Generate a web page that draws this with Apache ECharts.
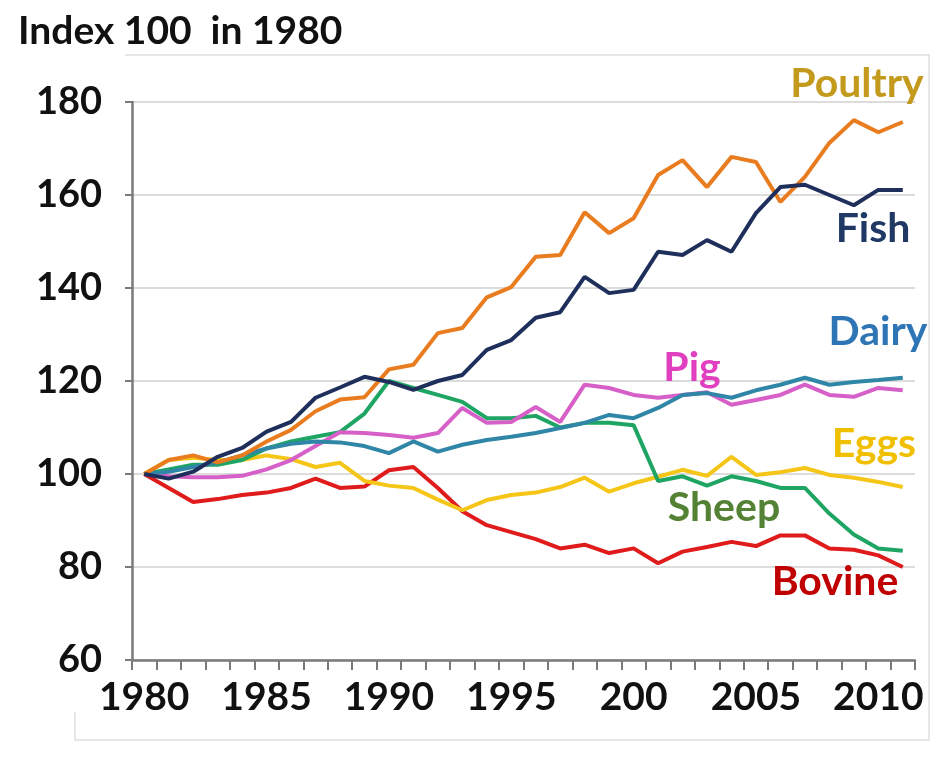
<!DOCTYPE html>
<html>
<head>
<meta charset="utf-8">
<script src="https://cdn.jsdelivr.net/npm/echarts@6/dist/echarts.min.js"></script>
<style>
html,body{margin:0;padding:0;background:#fff;}
#chart{width:935px;height:765px;}
</style>
</head>
<body>
<div id="chart"></div>
<script>
const years = [1980,1981,1982,1983,1984,1985,1986,1987,1988,1989,1990,1991,1992,1993,1994,1995,1996,1997,1998,1999,2000,2001,2002,2003,2004,2005,2006,2007,2008,2009,2010,2011];
const xTickLabels = {1980:'1980',1985:'1985',1990:'1990',1995:'1995',2000:'200',2005:'2005',2010:'2010'};
const yTicks = [60,80,100,120,140,160,180];
const titleText = 'Index 100  in 1980';

const poultry = [100,103,104,102.5,104,107,109.5,113.5,116,116.5,122.5,123.5,130.3,131.4,138,140.2,146.7,147.1,156.3,151.8,155,164.3,167.5,161.7,168.2,167.1,158.5,163.9,171.2,176.1,173.5,175.7];
const fish    = [100,99,100.5,103.7,105.6,109.1,111.2,116.4,118.6,120.9,119.8,118.1,120,121.3,126.7,128.8,133.6,134.8,142.4,138.9,139.6,147.8,147.1,150.3,147.8,156.1,161.7,162.2,160,157.8,161.1,161.1];
const dairy   = [100,100.5,101.5,102.5,104,105.5,106.5,107,106.8,106,104.5,107,104.8,106.3,107.3,108,108.8,109.9,111,112.7,112,114.2,117,117.4,116.4,118,119.2,120.7,119.2,119.8,120.2,120.7];
const pig     = [100,99.5,99.3,99.3,99.6,101,103,106,109,108.8,108.4,107.8,108.8,114.2,111,111.2,114.4,111.2,119.2,118.5,117,116.4,117,117.6,114.9,115.9,117,119.2,117,116.6,118.5,118];
const eggs    = [100,103,103.5,103,103,104,103.2,101.5,102.4,98.5,97.5,97,94.5,92.2,94.4,95.5,96,97.2,99.2,96.2,98,99.4,100.9,99.6,103.7,99.8,100.4,101.3,99.8,99.2,98.3,97.2];
const sheep   = [100,101,102,102,103,105.5,107,108,109,113,120,118.5,117,115.5,112,112,112.5,110,111,111,110.5,98.5,99.5,97.5,99.5,98.5,97,97,91.5,87,84,83.5];
const bovine  = [100,97,94,94.6,95.5,96,97,99,97,97.3,100.8,101.5,97,92,89,87.5,86,84,84.8,83,84,80.8,83.3,84.3,85.4,84.5,86.8,86.8,84,83.7,82.5,80];

const seriesDefs = [
  {name:'Bovine',  data:bovine,  color:'#e01b1b', text:'#c00000', tx:835, ty:582},
  {name:'Eggs',    data:eggs,    color:'#f5c518', text:'#f0c000', tx:874, ty:444},
  {name:'Sheep',   data:sheep,   color:'#1fa563', text:'#548235', tx:724, ty:508},
  {name:'Pig',     data:pig,     color:'#d65fc8', text:'#e040c0', tx:692, ty:368},
  {name:'Dairy',   data:dairy,   color:'#2f86a6', text:'#2e75b6', tx:878, ty:332},
  {name:'Poultry', data:poultry, color:'#e97c1f', text:'#c49a1c', tx:857, ty:84},
  {name:'Fish',    data:fish,    color:'#1f2f5c', text:'#1f3864', tx:873, ty:229}
];

const FONT = 'Lato, "Open Sans", sans-serif';
const chart = echarts.init(document.getElementById('chart'));

const graphics = seriesDefs.map(s => ({
  type:'text', x: s.tx, y: s.ty, z: 100,
  style:{text:s.name, fill:s.text, font:'bold 41px ' + FONT, textAlign:'center', textVerticalAlign:'middle'}
}));
graphics.push({
  type:'polyline', z: 1, silent:true,
  shape:{points:[[75,712],[75,740],[929,740],[929,55],[125,55]]},
  style:{stroke:'#e0e0e0', lineWidth:1.5, fill:null}
});

chart.setOption({
  animation:false,
  backgroundColor:'#fff',
  title:{text:titleText, left:13, top:7, textStyle:{fontFamily:FONT, fontWeight:'bold', fontSize:39, color:'#111'}},
  grid:{left:132, right:20, top:102, bottom:105, containLabel:false},
  xAxis:{
    type:'category', data:years, boundaryGap:true,
    axisLine:{lineStyle:{color:'#7a7a7a', width:2.5}},
    axisTick:{show:true, interval:0, length:10, lineStyle:{color:'#7a7a7a', width:2}},
    axisLabel:{interval:0, margin:18, fontFamily:FONT, fontWeight:'bold', fontSize:39, color:'#111',
      formatter:(v)=> xTickLabels[v] !== undefined ? xTickLabels[v] : ''},
    splitLine:{show:false}
  },
  yAxis:{
    type:'value', min:yTicks[0], max:yTicks[yTicks.length-1], interval:20,
    axisLine:{show:true, lineStyle:{color:'#7a7a7a', width:2.5}},
    axisTick:{show:true, inside:false, length:7, lineStyle:{color:'#7a7a7a', width:2}},
    axisLabel:{margin:30, fontFamily:FONT, fontWeight:'bold', fontSize:38, color:'#111'},
    splitLine:{show:true, lineStyle:{color:'#dcdcdc', width:2}}
  },
  series: seriesDefs.map(s => ({
    name:s.name, type:'line', data:s.data, symbol:'none', smooth:false,
    lineStyle:{color:s.color, width:4}, itemStyle:{color:s.color}
  })),
  graphic: graphics
});
</script>
</body>
</html>
